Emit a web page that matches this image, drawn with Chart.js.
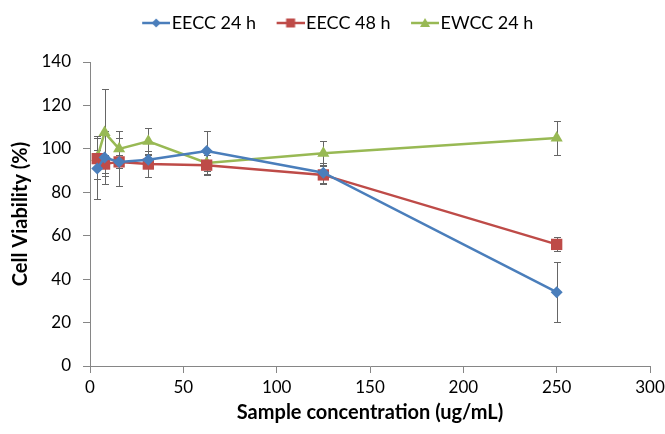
<!DOCTYPE html>
<html>
<head>
<meta charset="utf-8">
<script src="https://cdn.jsdelivr.net/npm/chart.js@4.4.1/dist/chart.umd.min.js"></script>
<style>
  html, body { margin: 0; padding: 0; background: #fff; }
</style>
</head>
<body>
<canvas id="myChart" width="665" height="434"></canvas>
<script>
// data
const conc = [3.9, 7.8, 15.6, 31.25, 62.5, 125, 250];

const eecc24 = [91, 96, 94, 95, 99, 89, 34];
const eecc24Err = [14, 12, 11, 2, 9, 4.5, 13.7];

const eecc48 = [95.5, 93, 94, 93, 92.5, 88, 56];
const eecc48Err = [4, 4, 3, 6, 4.5, 4, 3.2];

const ewcc24 = [96, 107.5, 100, 103.5, 93.5, 98, 105];
const ewcc24Err = [10, 20, 8, 6, 5, 5.5, 7.6];

const seriesNames = ['EECC 24 h', 'EECC 48 h', 'EWCC 24 h'];
const colors = ['#4A7EBB', '#BE4B48', '#98B954'];

const xTickMin = 0, xTickMax = 300, xTickStep = 50;
const yTickMin = 0, yTickMax = 140, yTickStep = 20;

const FONT = 'Lato, "Open Sans", sans-serif';

function points(ys) {
  return conc.map((c, i) => ({ x: c, y: ys[i] }));
}

// legend icons: short line with the marker in the middle,
// drawn at the right end of a wider transparent canvas
function legendIcon(color, shape) {
  const c = document.createElement('canvas');
  c.width = 46; c.height = 14;
  const g = c.getContext('2d');
  const x0 = 18, mid = 32;
  g.strokeStyle = color;
  g.lineWidth = 2.5;
  g.beginPath(); g.moveTo(x0, 7); g.lineTo(46, 7); g.stroke();
  g.fillStyle = color;
  g.beginPath();
  if (shape === 'diamond') {
    g.moveTo(mid, 2.5); g.lineTo(mid + 4.5, 7); g.lineTo(mid, 11.5); g.lineTo(mid - 4.5, 7);
  } else if (shape === 'square') {
    g.rect(mid - 4.5, 2.5, 9, 9);
  } else {
    g.moveTo(mid, 2); g.lineTo(mid + 5, 11); g.lineTo(mid - 5, 11);
  }
  g.closePath(); g.fill();
  return c;
}
const icons = [
  legendIcon(colors[0], 'diamond'),
  legendIcon(colors[1], 'square'),
  legendIcon(colors[2], 'triangle'),
];

// error bars drawn from the dataset's errors through the scales
const errorBars = {
  id: 'errorBars',
  beforeDatasetsDraw(chart) {
    const { ctx, scales: { x, y } } = chart;
    ctx.save();
    ctx.strokeStyle = '#666666';
    ctx.lineWidth = 1;
    chart.data.datasets.forEach(ds => {
      ds.data.forEach((p, j) => {
        const e = ds.errors[j];
        const px = Math.round(x.getPixelForValue(p.x)) + 0.5;
        const top = Math.round(y.getPixelForValue(p.y + e)) + 0.5;
        const bot = Math.round(y.getPixelForValue(p.y - e)) + 0.5;
        ctx.beginPath();
        ctx.moveTo(px, top); ctx.lineTo(px, bot);
        ctx.moveTo(px - 3.5, top); ctx.lineTo(px + 3.5, top);
        ctx.moveTo(px - 3.5, bot); ctx.lineTo(px + 3.5, bot);
        ctx.stroke();
      });
    });
    ctx.restore();
  }
};

// make the legend box taller so the plot starts lower
const legendSpace = {
  id: 'legendSpace',
  afterInit(chart) {
    const lg = chart.legend;
    if (!lg) return;
    const fit = lg.fit;
    lg.fit = function () {
      fit.call(this);
      this.height = 58;
    };
  }
};

const data = {
  datasets: [
    {
      label: seriesNames[0],
      data: points(eecc24),
      errors: eecc24Err,
      borderColor: colors[0],
      backgroundColor: colors[0],
      pointStyle: 'rectRot',
      pointRadius: 6,
    },
    {
      label: seriesNames[1],
      data: points(eecc48),
      errors: eecc48Err,
      borderColor: colors[1],
      backgroundColor: colors[1],
      pointStyle: 'rect',
      pointRadius: 8,
    },
    {
      label: seriesNames[2],
      data: points(ewcc24),
      errors: ewcc24Err,
      borderColor: colors[2],
      backgroundColor: colors[2],
      pointStyle: 'triangle',
      pointRadius: 7,
    },
  ]
};

const axisGray = '#868686';

const options = {
  responsive: false,
  animation: false,
  devicePixelRatio: 1,
  showLine: true,
  elements: {
    line: { borderWidth: 2.5, tension: 0 },
    point: { borderWidth: 0, hoverRadius: 7 },
  },
  layout: { padding: { top: 4, right: 0, left: 0, bottom: 0 } },
  scales: {
    x: {
      type: 'linear',
      min: xTickMin,
      max: xTickMax,
      ticks: { stepSize: xTickStep, color: '#000', padding: 4, font: { family: FONT, size: 17 } },
      grid: { drawOnChartArea: false, tickLength: 7, color: axisGray },
      border: { color: axisGray, width: 1 },
      title: {
        display: true,
        text: 'Sample concentration (ug/mL)',
        color: '#000',
        font: { family: FONT, size: 20, weight: 'bold' },
        padding: { top: 0, bottom: 9 },
      },
      afterFit(s) { s.height = 68; s.paddingRight = 15; },
    },
    y: {
      min: yTickMin,
      max: yTickMax,
      ticks: { stepSize: yTickStep, color: '#000', padding: 12, font: { family: FONT, size: 17 } },
      grid: { drawOnChartArea: false, tickLength: 7, color: axisGray },
      border: { color: axisGray, width: 1 },
      title: {
        display: true,
        text: 'Cell Viability (%)',
        color: '#000',
        font: { family: FONT, size: 20, weight: 'bold' },
        padding: { top: 9, bottom: 0 },
      },
      afterFit(s) { s.width = 90; },
    },
  },
  plugins: {
    legend: {
      position: 'top',
      labels: {
        color: '#000',
        font: { family: FONT, size: 18 },
        usePointStyle: true,
        pointStyleWidth: 31,
        padding: 10,
        generateLabels(chart) {
          const items = Chart.defaults.plugins.legend.labels.generateLabels(chart);
          items.forEach((it, i) => { it.pointStyle = icons[i]; });
          return items;
        }
      }
    },
    tooltip: { enabled: false },
  }
};

const config = {
  type: 'scatter',
  data,
  options,
  plugins: [errorBars, legendSpace],
};

const myChart = new Chart(document.getElementById('myChart'), config);
</script>
</body>
</html>
